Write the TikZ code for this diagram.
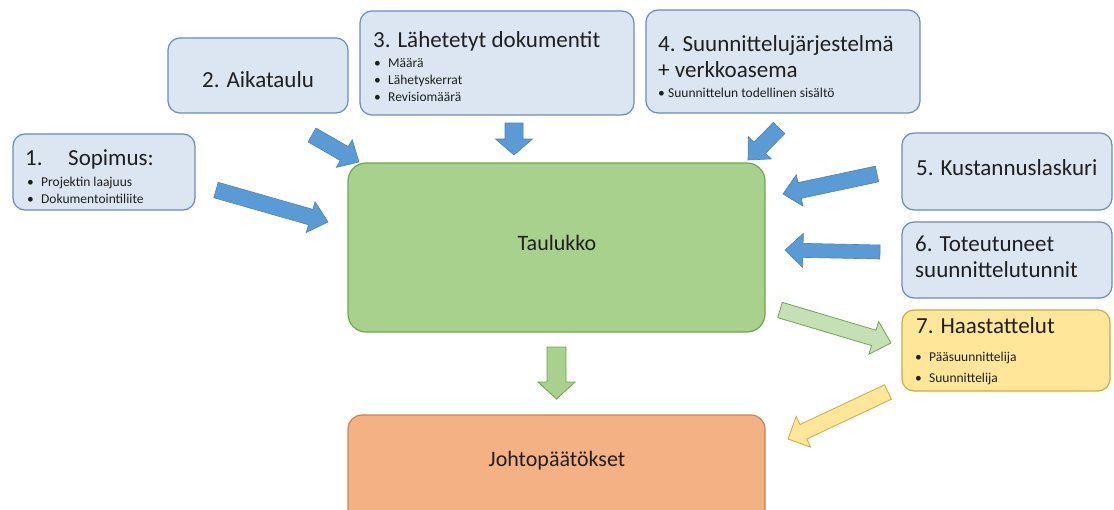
\documentclass[tikz,border=0pt]{standalone}
\usepackage{fontspec}
\setmainfont{Carlito}
\usetikzlibrary{calc}

\definecolor{boxblue}{HTML}{DCE6F2}
\definecolor{lineblue}{HTML}{6A8CBF}
\definecolor{arrowblue}{HTML}{5B9BD5}
\definecolor{arrowblueline}{HTML}{4A82BC}
\definecolor{tabgreen}{HTML}{A9D18E}
\definecolor{tabgreenline}{HTML}{6FA64C}
\definecolor{lightgreen}{HTML}{C5E0B4}
\definecolor{orangefill}{HTML}{F4B183}
\definecolor{orangeline}{HTML}{C98451}
\definecolor{yellowfill}{HTML}{FFE699}
\definecolor{yellowline}{HTML}{D2AA3C}
\definecolor{ink}{HTML}{1F1F1F}

\newcommand\ttlsize{\fontsize{23}{26}\selectfont}
\newcommand\bulsize{\fontsize{13.5}{16}\selectfont}
\newcommand\bul[1]{\makebox[14pt][l]{\textbullet}#1}

% block arrow: style, tail centre, tip, shaft half width, head half width, head length
\newcommand\blockarrow[6]{%
  \coordinate (ba-s) at ($(#3)!#6!(#2)$);
  \draw[#1] ($(#2)!#4!90:(#3)$) -- ($(ba-s)!#4!90:(#3)$) -- ($(ba-s)!#5!90:(#3)$)
    -- (#3) -- ($(ba-s)!#5!-90:(#3)$) -- ($(ba-s)!#4!-90:(#3)$)
    -- ($(#2)!#4!-90:(#3)$) -- cycle;
}

\begin{document}
\begin{tikzpicture}[x=1pt,y=-1pt,
  every node/.style={text=ink, inner sep=0pt},
  bluebox/.style={draw=lineblue, fill=boxblue, line width=1.2pt, rounded corners=12pt},
  tablebox/.style={draw=tabgreenline, fill=tabgreen, line width=1.2pt, rounded corners=18pt},
  resultbox/.style={draw=orangeline, fill=orangefill, line width=1.2pt, rounded corners=14pt},
  talkbox/.style={draw=yellowline, fill=yellowfill, line width=1.2pt, rounded corners=12pt},
  bluearrow/.style={draw=arrowblueline, fill=arrowblue, line width=0.6pt, line join=miter},
  greenarrow/.style={draw=tabgreenline, fill=lightgreen, line width=0.8pt, line join=miter},
  darkgreenarrow/.style={draw=tabgreenline, fill=tabgreen, line width=0.8pt, line join=miter},
  yellowarrow/.style={draw=yellowline, fill=yellowfill, line width=0.8pt, line join=miter},
  title/.style={anchor=base west, font=\ttlsize},
  item/.style={anchor=base west, font=\bulsize}]

\useasboundingbox (0,0) rectangle (1114,509);
\clip (0,0) rectangle (1114,509);

% source boxes
\node[bluebox, minimum width=182pt, minimum height=76pt] (sopimus) at (104,172) {};
\node[title] (sopimus-n) at (25,165) {1.};
\node[title] (sopimus-t) at (68,165) {Sopimus:};
\node[item] (sopimus-i1) at (27,186) {\bul{Projektin laajuus}};
\node[item] (sopimus-i2) at (27,203) {\bul{Dokumentointiliite}};

\node[bluebox, minimum width=180pt, minimum height=75pt] (aika) at (258,75.5) {};
\node[title] (aika-t) at (202,87) {2. Aikataulu};

\node[bluebox, minimum width=274pt, minimum height=104pt] (doc) at (497,63) {};
\node[title] (doc-t) at (373,47) {3. Lähetetyt dokumentit};
\node[item] (doc-i1) at (374,67) {\bul{Määrä}};
\node[item] (doc-i2) at (374,84) {\bul{Lähetyskerrat}};
\node[item] (doc-i3) at (374,101) {\bul{Revisiomäärä}};

\node[bluebox, minimum width=274pt, minimum height=103pt] (sys) at (783,61.5) {};
\node[title] (sys-t1) at (658,51) {4. Suunnittelujärjestelmä};
\node[title] (sys-t2) at (658,77) {+ verkkoasema};
\node[item] (sys-i1) at (658,97) {\makebox[10pt][l]{\textbullet}Suunnittelun todellinen sisältö};

\node[bluebox, minimum width=210pt, minimum height=77pt] (cost) at (1007,171.5) {};
\node[title] (cost-t) at (916,175) {5. Kustannuslaskuri};

\node[bluebox, minimum width=210pt, minimum height=76pt] (hours) at (1007,260) {};
\node[title] (hours-t1) at (915,251) {6. Toteutuneet};
\node[title] (hours-t2) at (915,277) {suunnittelutunnit};

\node[talkbox, minimum width=208pt, minimum height=81pt] (talk) at (1006,350.5) {};
\node[title] (talk-t) at (916,333) {7. Haastattelut};
\node[item] (talk-i1) at (915,361) {\bul{Pääsuunnittelija}};
\node[item] (talk-i2) at (915,382) {\bul{Suunnittelija}};

% central table and conclusions
\node[tablebox, minimum width=417pt, minimum height=169pt] (table) at (556.5,247.5) {};
\node[font=\fontsize{22}{26}\selectfont] (table-t) at (557,243) {Taulukko};

\node[resultbox, minimum width=417pt, minimum height=110pt] (result) at (556.5,470) {};
\node[font=\fontsize{22}{26}\selectfont] (result-t) at (557,461) {Johtopäätökset};

% arrow end points
\coordinate (a1t) at (216,190);  \coordinate (a1h) at (328,222);
\coordinate (a2t) at (312,135);  \coordinate (a2h) at (359,162);
\coordinate (a3t) at (514,123);  \coordinate (a3h) at (514,155);
\coordinate (a4t) at (779,128);  \coordinate (a4h) at (748,160);
\coordinate (a5t) at (877,174);  \coordinate (a5h) at (783,194);
\coordinate (a6t) at (880,252);  \coordinate (a6h) at (785,250);
\coordinate (a7t) at (780,310);  \coordinate (a7h) at (891,343);
\coordinate (a8t) at (888,392);  \coordinate (a8h) at (788,439);
\coordinate (a9t) at (556.5,347); \coordinate (a9h) at (556.5,399);

\blockarrow{bluearrow}{a1t}{a1h}{8pt}{16pt}{18pt}
\blockarrow{bluearrow}{a2t}{a2h}{8pt}{16pt}{17pt}
\blockarrow{bluearrow}{a3t}{a3h}{9pt}{18.5pt}{16pt}
\blockarrow{bluearrow}{a4t}{a4h}{8pt}{16pt}{17pt}
\blockarrow{bluearrow}{a5t}{a5h}{8pt}{16pt}{17pt}
\blockarrow{bluearrow}{a6t}{a6h}{7pt}{17pt}{18pt}
\blockarrow{greenarrow}{a7t}{a7h}{8pt}{17pt}{18pt}
\blockarrow{yellowarrow}{a8t}{a8h}{8pt}{17pt}{17pt}
\blockarrow{darkgreenarrow}{a9t}{a9h}{9.5pt}{18.5pt}{17pt}

\end{tikzpicture}
\end{document}
